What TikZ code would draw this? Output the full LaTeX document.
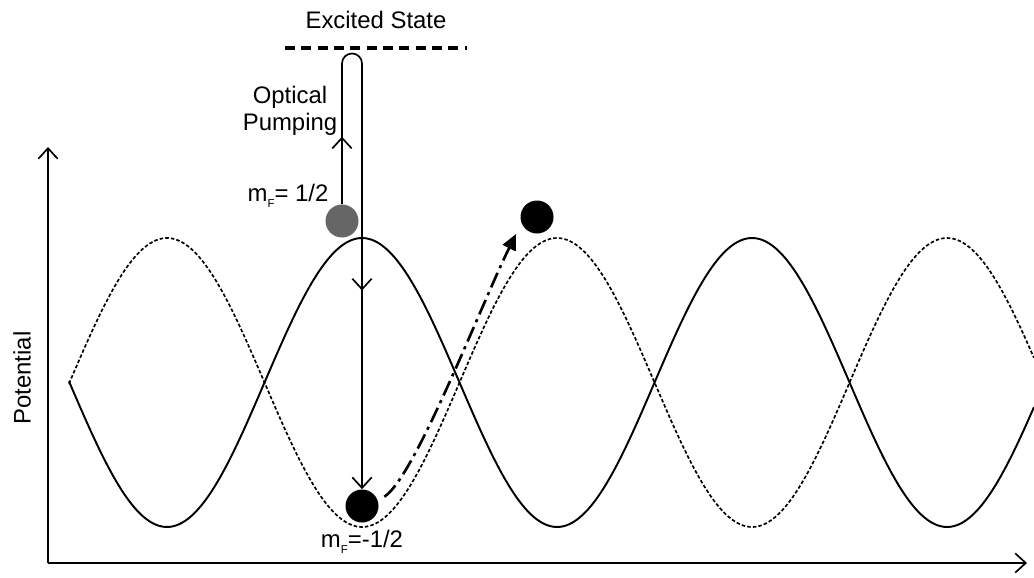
\documentclass[tikz,border=0pt]{standalone}
\usepackage{fontspec}
\setmainfont{Liberation Sans}
\usetikzlibrary{arrows.meta,decorations.markings}

\newcommand{\subF}{\raisebox{-0.45ex}{\fontsize{6.5}{6.5}\selectfont F}}

\begin{document}
\begin{tikzpicture}[
  every node/.style={font=\fontsize{13.6}{15.5}\selectfont},
  ball/.style={circle, fill=black, minimum size=0.66cm, inner sep=0pt},
  barb/.tip={Straight Barb[length=6pt,width=11pt]},
  flow/.style={-barb, line width=0.95pt},
  level/.style={line width=2.4pt, dash pattern=on 5.7pt off 3.6pt},
  pot/.style={line width=1.1pt, samples=300, smooth},
  potdash/.style={pot, line width=0.95pt, dash pattern=on 2pt off 1.2pt},
  hop/.style={-{Triangle[length=9pt,width=8pt]}, line width=1.5pt, dash pattern=on 9pt off 3pt on 1.8pt off 3pt},
  midtips/.style={postaction={decorate}, decoration={markings,
    mark=at position 1.35cm with {\arrow{barb}},
    mark=at position 7.98cm with {\arrow{barb}}}}
]
\useasboundingbox (0,0) rectangle (20.68,11.54);
% Axes
\coordinate (origin) at (0.96,0.28);
\coordinate (ytop) at (0.96,8.6);
\coordinate (xend) at (20.54,0.28);
\draw[flow] (origin) -- (ytop);
\draw[flow] (origin) -- (xend);
\node[rotate=90] (potlabel) at (0.44,3.98) {Potential};
% Lattice potentials
\draw[pot] plot[domain=1.38:20.68] (\x,{3.89-2.89*cos(46.15*(\x-3.34))});
\draw[potdash] plot[domain=1.38:20.68] (\x,{3.89+2.89*cos(46.15*(\x-3.34))});
% Excited level
\coordinate (exleft) at (5.7,10.58);
\coordinate (exright) at (9.34,10.58);
\draw[level] (exleft) -- (exright);
\node (exlabel) at (7.52,11.14) {Excited State};
% Atoms
\node[ball, fill=black!60] (upball) at (6.84,7.12) {};
\node[ball] (lowball) at (7.24,1.42) {};
\node[ball] (hotball) at (10.74,7.2) {};
\node (upmf) at (5.76,7.62) {m\subF= 1/2};
\node (lowmf) at (7.24,0.7) {m\subF=-1/2};
\node[align=center] (optlabel) at (5.8,9.32) {Optical\\Pumping};
% Pumping cycle
\coordinate (pumptop) at (7.04,10.27);
\draw[flow, midtips] (upball.north) -- (upball.north |- pumptop)
  arc[start angle=180, end angle=0, radius=0.2] -- (lowball.north);
% Hop to next site
\draw[hop] ([shift={(0.13,0.07)}]lowball.20) .. controls (8.3,2.0) and (9.6,5.4) .. ([shift={(-0.18,-0.1)}]hotball.south west);
\end{tikzpicture}
\end{document}
